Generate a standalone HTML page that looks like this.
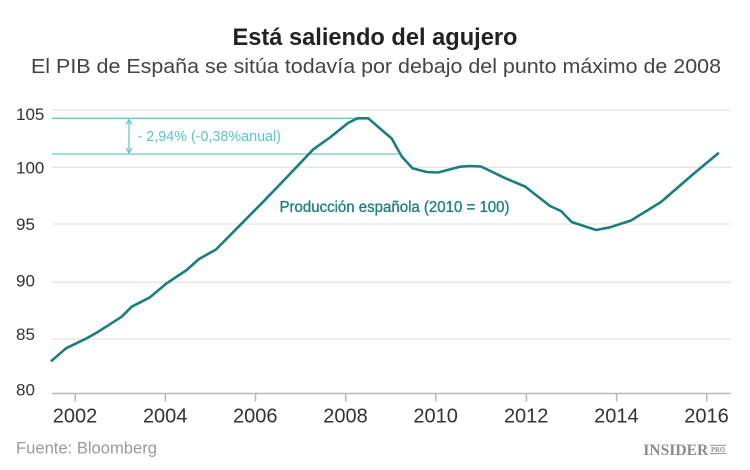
<!DOCTYPE html>
<html>
<head>
<meta charset="utf-8">
<style>
  html, body { margin: 0; padding: 0; background: #ffffff; }
  body { width: 750px; height: 470px; overflow: hidden; }
  svg { display: block; }
  text { font-family: "Liberation Sans", Arial, sans-serif; }
</style>
</head>
<body>
<svg width="750" height="470" viewBox="0 0 750 470" xmlns="http://www.w3.org/2000/svg">
  <rect x="0" y="0" width="750" height="470" fill="#ffffff"/>

  <!-- Title -->
  <text x="375" y="45" text-anchor="middle" font-size="24" font-weight="bold" fill="#222222" textLength="285" lengthAdjust="spacingAndGlyphs">Está saliendo del agujero</text>
  <text x="376" y="73" text-anchor="middle" font-size="20" fill="#444444" textLength="690" lengthAdjust="spacingAndGlyphs">El PIB de España se sitúa todavía por debajo del punto máximo de 2008</text>

  <!-- Gridlines -->
  <g stroke="#e3e3e3" stroke-width="1.3">
    <line x1="52" y1="110" x2="731" y2="110"/>
    <line x1="52" y1="167.4" x2="731" y2="167.4"/>
    <line x1="52" y1="224" x2="731" y2="224"/>
    <line x1="52" y1="282.2" x2="731" y2="282.2"/>
    <line x1="52" y1="339" x2="731" y2="339"/>
  </g>
  <!-- Axis -->
  <line x1="52" y1="393.5" x2="731" y2="393.5" stroke="#b8b8b8" stroke-width="1.5"/>
  <g stroke="#b8b8b8" stroke-width="1.5">
    <line x1="75.3" y1="393.5" x2="75.3" y2="401.5"/>
    <line x1="165.4" y1="393.5" x2="165.4" y2="401.5"/>
    <line x1="255.5" y1="393.5" x2="255.5" y2="401.5"/>
    <line x1="345.7" y1="393.5" x2="345.7" y2="401.5"/>
    <line x1="435.8" y1="393.5" x2="435.8" y2="401.5"/>
    <line x1="526.4" y1="393.5" x2="526.4" y2="401.5"/>
    <line x1="616.6" y1="393.5" x2="616.6" y2="401.5"/>
    <line x1="706.7" y1="393.5" x2="706.7" y2="401.5"/>
  </g>

  <!-- Y labels -->
  <g font-size="17" fill="#333333">
    <text x="16" y="120">105</text>
    <text x="16" y="173.5">100</text>
    <text x="16" y="230">95</text>
    <text x="16" y="286.5">90</text>
    <text x="16" y="340">85</text>
    <text x="16" y="395.5">80</text>
  </g>

  <!-- X labels -->
  <g font-size="20" fill="#333333" text-anchor="middle">
    <text x="75" y="422.5">2002</text>
    <text x="165.2" y="422.5">2004</text>
    <text x="255.3" y="422.5">2006</text>
    <text x="345.5" y="422.5">2008</text>
    <text x="435.6" y="422.5">2010</text>
    <text x="526.2" y="422.5">2012</text>
    <text x="616.4" y="422.5">2014</text>
    <text x="706.5" y="422.5">2016</text>
  </g>

  <!-- Annotation cyan lines -->
  <g stroke="#66c9cc" stroke-width="1.3" fill="none">
    <line x1="52" y1="118.3" x2="362" y2="118.3"/>
    <line x1="52" y1="154" x2="398" y2="154"/>
    <line x1="129" y1="119.5" x2="129" y2="153"/>
    <polyline points="126.2,124.5 129,119.5 131.8,124.5"/>
    <polyline points="126.2,148 129,153 131.8,148"/>
  </g>
  <text x="137.5" y="141" font-size="15" fill="#5cc4c8" textLength="143.5" lengthAdjust="spacingAndGlyphs">- 2,94% (-0,38%anual)</text>

  <!-- Data line -->
  <polyline fill="none" stroke="#1a7e80" stroke-width="2.6" stroke-linejoin="round" stroke-linecap="round"
    points="51.7,360.7 66,348.3 86.7,338.3 98.3,331.7 121.7,316.7 131.7,306.7 150,297.3 166.7,283.3 186.7,270 199,259 216,249.5 240,225.2 264,200.9 288,176 313.3,149.3 330,137.5 348,123 357.5,118.3 368.3,118.3 381.7,130 391.7,138.5 401.7,156.5 412.5,168.3 426.7,172 438,172.5 460,166.7 470,166 481,166.5 505.5,178.3 525,186.5 550,206 561,211 571.7,222 596,230 610,227.3 631,220.5 661,202 693.3,174 718,153.5"/>

  <text x="279.5" y="212" font-size="15.5" fill="#1e8185" stroke="#1e8185" stroke-width="0.35" textLength="230" lengthAdjust="spacingAndGlyphs">Producción española (2010 = 100)</text>

  <!-- Source -->
  <text x="16" y="453.5" font-size="16.5" fill="#9a9a9a" textLength="141" lengthAdjust="spacingAndGlyphs">Fuente: Bloomberg</text>

  <!-- Logo -->
  <text x="643.3" y="455" font-family="Liberation Serif, serif" font-size="16" font-weight="bold" fill="#8c8c8c" textLength="65" lengthAdjust="spacingAndGlyphs" style="font-family:'Liberation Serif',serif">INSIDER</text>
  <g stroke="#8c8c8c" stroke-width="0.9">
    <line x1="710" y1="445.3" x2="726" y2="445.3"/>
    <line x1="710" y1="453.6" x2="726" y2="453.6"/>
  </g>
  <text x="718" y="452" text-anchor="middle" font-size="7.5" font-weight="bold" fill="#8c8c8c" style="font-family:'Liberation Serif',serif" textLength="14" lengthAdjust="spacingAndGlyphs">PRO</text>
</svg>
</body>
</html>
